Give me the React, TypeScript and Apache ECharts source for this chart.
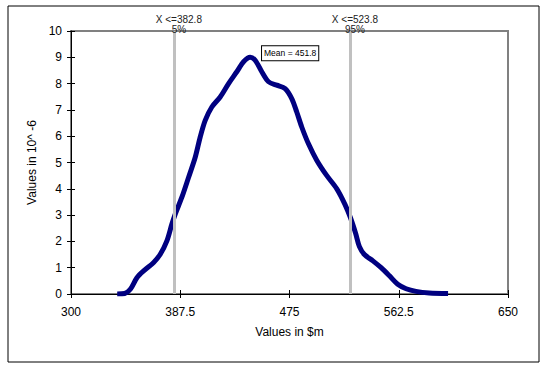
import React, { useEffect, useRef } from "react";
import * as echarts from "echarts";

const xValues = [337, 343, 347.5, 352.8, 358.2, 366.2, 371.5, 376.8, 380.8, 383.5, 388.8, 394.2, 399.5, 403.5, 407.5, 412.8, 419.5, 426.2, 432.8, 438.2, 443.5, 447.5, 452.8, 458.2, 464.8, 471.5, 476.8, 480.8, 484.8, 490.2, 496.9, 504.9, 512.9, 519.5, 523.8, 528, 531, 535, 541.8, 548.4, 555.1, 561.7, 568.4, 576.3, 586.9, 602];
const density = [0, 0.02, 0.18, 0.62, 0.88, 1.2, 1.51, 2.02, 2.66, 3.04, 3.68, 4.44, 5.2, 5.97, 6.6, 7.11, 7.49, 8.0, 8.45, 8.83, 9.0, 8.89, 8.45, 8.07, 7.94, 7.81, 7.43, 6.92, 6.35, 5.71, 5.08, 4.5, 4.0, 3.4, 2.9, 2.3, 1.8, 1.5, 1.26, 1.0, 0.69, 0.37, 0.2, 0.1, 0.04, 0.02];
const percentileValues = [382.8, 523.8];
const percentileNames = ["5%", "95%"];
const meanValue = 451.8;
const meanLabelY = 9.15;

const FONT = "'Liberation Sans', Arial, sans-serif";

export default function App() {
  const ref = useRef<HTMLDivElement>(null);
  useEffect(() => {
    if (!ref.current) return;
    const chart = echarts.init(ref.current, null, { renderer: "svg" });
    const axisBase = { min: 300, max: 650, interval: 87.5 };
    chart.setOption({
      animation: false,
      backgroundColor: "#fff",
      textStyle: { fontFamily: FONT },
      graphic: [
        {
          type: "rect",
          shape: { x: 8, y: 6, width: 531, height: 356 },
          style: { fill: "none", stroke: "#000", lineWidth: 1 },
          silent: true,
        },
      ],
      grid: {
        left: 71,
        top: 31,
        right: 49,
        bottom: 83,
        show: true,
        borderColor: "#808080",
        borderWidth: 2,
        backgroundColor: "transparent",
      },
      xAxis: [
        {
          type: "value",
          ...axisBase,
          position: "bottom",
          name: "Values in $m",
          nameLocation: "middle",
          nameGap: 32,
          nameTextStyle: { fontSize: 12, color: "#000", fontFamily: FONT },
          axisLine: { show: true, lineStyle: { color: "#000", width: 1 } },
          axisTick: { show: true, inside: false, length: 4, lineStyle: { color: "#000" } },
          axisLabel: { fontSize: 12, color: "#000", margin: 12, fontFamily: FONT },
          splitLine: { show: false },
        },
        {
          type: "value",
          ...axisBase,
          position: "bottom",
          axisLine: { show: false },
          axisTick: { show: true, inside: true, length: 4, lineStyle: { color: "#000" } },
          axisLabel: { show: false },
          splitLine: { show: false },
        },
      ],
      yAxis: [
        {
          type: "value",
          min: 0,
          max: 10,
          interval: 1,
          position: "left",
          name: "Values in 10^ -6",
          nameLocation: "middle",
          nameGap: 32,
          nameTextStyle: { fontSize: 12, color: "#000", fontFamily: FONT },
          axisLine: { show: true, lineStyle: { color: "#000", width: 1 } },
          axisTick: { show: true, inside: false, length: 4, lineStyle: { color: "#000" } },
          axisLabel: { fontSize: 12, color: "#000", margin: 9, fontFamily: FONT },
          splitLine: { show: false },
        },
        {
          type: "value",
          min: 0,
          max: 10,
          interval: 1,
          position: "left",
          axisLine: { show: false },
          axisTick: { show: true, inside: true, length: 4, lineStyle: { color: "#000" } },
          axisLabel: { show: false },
          splitLine: { show: false },
        },
      ],
      series: [
        {
          type: "line",
          xAxisIndex: 0,
          yAxisIndex: 0,
          data: xValues.map((x, i) => [x, density[i]]),
          smooth: 0.3,
          showSymbol: false,
          symbol: "none",
          lineStyle: { color: "#000080", width: 5 },
          markLine: {
            silent: true,
            symbol: ["none", "none"],
            lineStyle: { color: "#c0c0c0", width: 3, type: "solid" },
            label: {
              show: true,
              position: "end",
              distance: -3,
              fontSize: 10,
              lineHeight: 10,
              color: "#222",
              fontFamily: FONT,
              padding: [0, 0, 0, 9],
            },
            data: percentileValues.map((v, i) => ({
              xAxis: v,
              label: { formatter: `X <=${v}\n${percentileNames[i]}` },
            })),
          },
          markPoint: {
            silent: true,
            symbol: "rect",
            symbolSize: 1,
            itemStyle: { color: "transparent" },
            label: {
              show: true,
              position: "right",
              distance: 1,
              formatter: `Mean = ${meanValue}`,
              fontSize: 8.5,
              color: "#000",
              fontFamily: FONT,
              backgroundColor: "#fff",
              borderColor: "#000",
              borderWidth: 1,
              padding: [3, 2, 2, 2],
            },
            data: [{ coord: [meanValue, meanLabelY] }],
          },
        },
      ],
    });
    return () => chart.dispose();
  }, []);
  return (
    <div
      ref={ref}
      style={{ position: "fixed", left: 0, top: 0, width: 557, height: 377 }}
    />
  );
}
